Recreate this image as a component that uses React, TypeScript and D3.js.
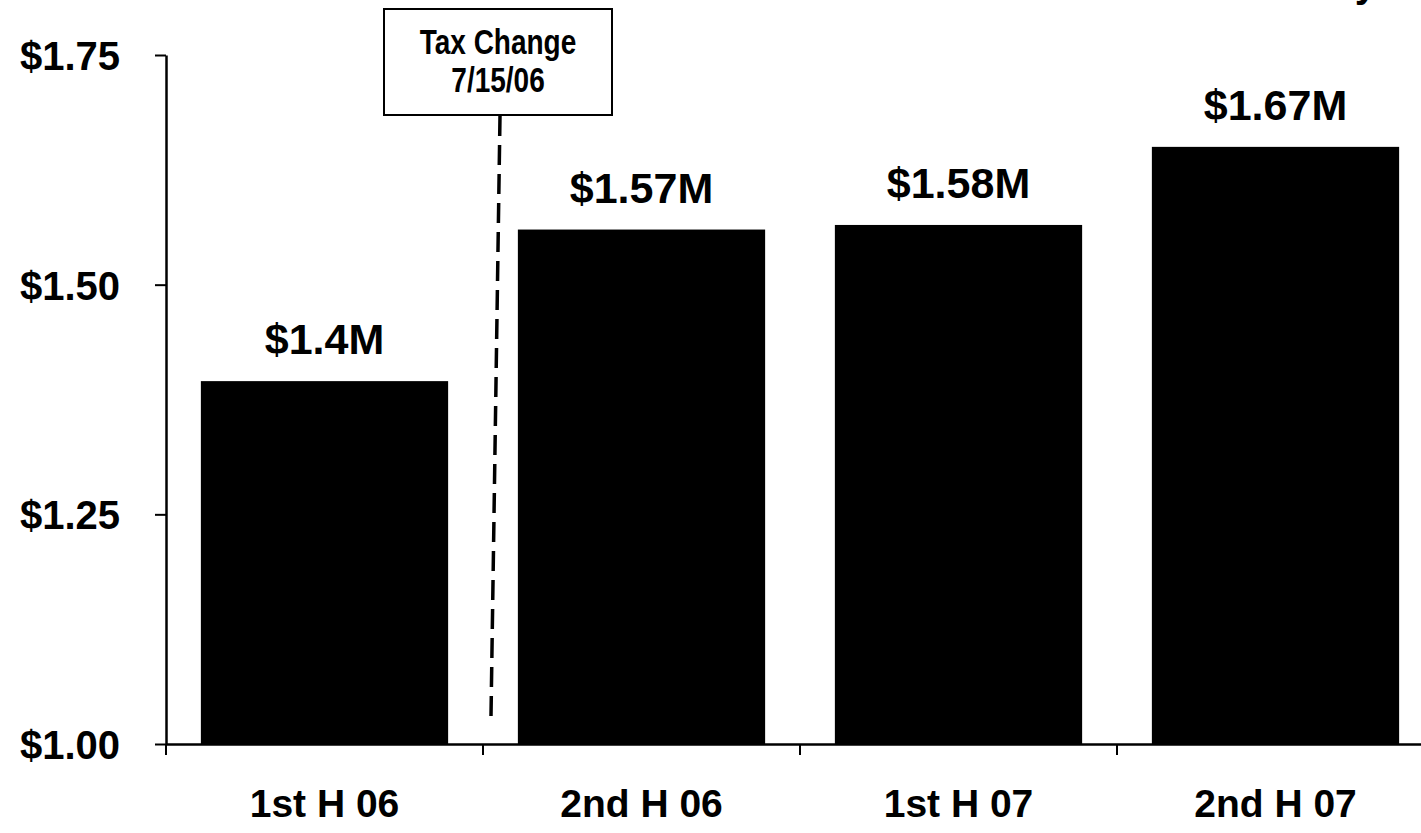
import * as React from "react";
import * as d3 from "d3";

// chart data
const categories = ["1st H 06", "2nd H 06", "1st H 07", "2nd H 07"];
const values = [1.395, 1.56, 1.565, 1.65];
const valueLabels = ["$1.4M", "$1.57M", "$1.58M", "$1.67M"];
const yTicks = [1.0, 1.25, 1.5, 1.75];
const annotationLines = ["Tax Change", "7/15/06"];

const W = 1421;
const H = 833;
const FONT = "'Liberation Sans', Arial, sans-serif";

export default function App() {
  const ref = React.useRef<SVGSVGElement>(null);

  React.useEffect(() => {
    const svg = d3.select(ref.current);
    svg.selectAll("*").remove();

    const x = d3.scaleBand<string>().domain(categories).range([166, 1434]).paddingInner(0.22).paddingOuter(0.11);
    const y = d3.scaleLinear().domain([1.0, 1.75]).range([744, 55]);

    svg.append("rect").attr("width", W).attr("height", H).attr("fill", "#fff");

    // cut-off title descender at top right
    svg.append("text")
      .attr("x", 1377).attr("y", -3)
      .attr("text-anchor", "end")
      .attr("font-family", FONT).attr("font-weight", "bold").attr("font-size", 40)
      .text("y");

    // bars
    svg.selectAll("rect.bar")
      .data(values)
      .enter().append("rect")
      .attr("class", "bar")
      .attr("x", (d, i) => x(categories[i])!)
      .attr("width", x.bandwidth())
      .attr("y", d => y(d))
      .attr("height", d => y(1.0) - y(d))
      .attr("fill", "#000");

    // value labels
    svg.selectAll("text.val")
      .data(values)
      .enter().append("text")
      .attr("class", "val")
      .attr("x", (d, i) => x(categories[i])! + x.bandwidth() / 2)
      .attr("y", d => y(d) - 27)
      .attr("text-anchor", "middle")
      .attr("font-family", FONT).attr("font-weight", "bold").attr("font-size", 43)
      .text((d, i) => valueLabels[i]);

    // y axis
    const yAxis = svg.append("g")
      .attr("transform", "translate(166,0)")
      .call(d3.axisLeft(y).tickValues(yTicks).tickSize(11).tickSizeOuter(0).tickPadding(35).tickFormat(d => "$" + d3.format(".2f")(d as number)));
    yAxis.select(".domain").attr("stroke", "#000").attr("stroke-width", 2.5);
    yAxis.selectAll(".tick line").attr("stroke", "#000").attr("stroke-width", 2);
    yAxis.selectAll(".tick text")
      .attr("fill", "#000").attr("font-family", FONT).attr("font-weight", "bold").attr("font-size", 40).attr("dy", "0.36em");

    // x axis
    const xAxis = svg.append("g")
      .attr("transform", "translate(0,744)")
      .call(d3.axisBottom(x).tickSize(0).tickPadding(45));
    xAxis.select(".domain").attr("stroke", "#000").attr("stroke-width", 2.5);
    xAxis.selectAll(".tick text")
      .attr("fill", "#000").attr("font-family", FONT).attr("font-weight", "bold").attr("font-size", 39);
    // category boundary ticks
    const bounds = [166, ...categories.slice(1).map(c => x(c)! - x.step() * 0.11)];
    xAxis.selectAll("line.sep")
      .data(bounds)
      .enter().append("line")
      .attr("class", "sep")
      .attr("x1", d => d).attr("x2", d => d)
      .attr("y1", 0).attr("y2", 11)
      .attr("stroke", "#000").attr("stroke-width", 2);

    // tax change annotation
    svg.append("rect")
      .attr("x", 384).attr("y", 9).attr("width", 228).attr("height", 106)
      .attr("fill", "#fff").attr("stroke", "#000").attr("stroke-width", 2);
    svg.selectAll("g.ann")
      .data(annotationLines)
      .enter().append("g")
      .attr("class", "ann")
      .attr("transform", (d, i) => `translate(498,${54 + i * 38}) scale(1,1.22)`)
      .append("text")
      .attr("text-anchor", "middle")
      .attr("font-family", FONT).attr("font-weight", "bold").attr("font-size", 28)
      .text(d => d);
    svg.append("line")
      .attr("x1", 500).attr("y1", 116).attr("x2", 491).attr("y2", 716)
      .attr("stroke", "#000").attr("stroke-width", 3.5)
      .attr("stroke-dasharray", "20,9");
  }, []);

  return (
    <svg ref={ref} width={W} height={H} style={{ position: "absolute", left: 0, top: 0 }} />
  );
}
